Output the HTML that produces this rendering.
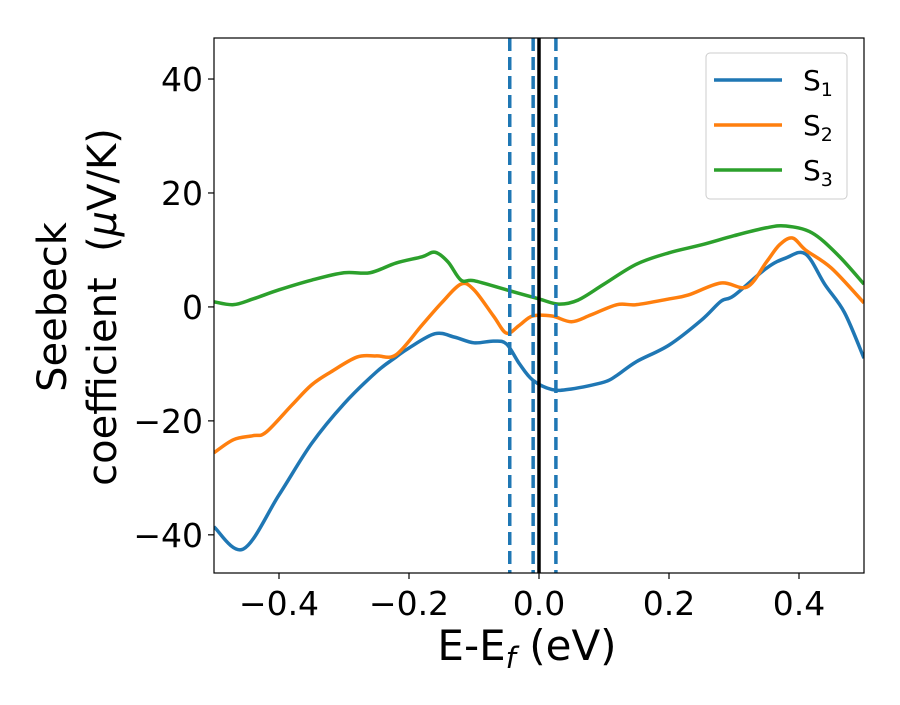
<!DOCTYPE html>
<html><head><meta charset="utf-8"><style>
body{margin:0;background:#fff;}
text{font-family:"DejaVu Sans","Liberation Sans",sans-serif;fill:#000;}
</style></head><body>
<svg id="chart" width="900" height="700" xmlns="http://www.w3.org/2000/svg">
</svg>
<script>
const xTicks=[-0.4,-0.2,0.0,0.2,0.4];
const xTickLabels=["\u22120.4","\u22120.2","0.0","0.2","0.4"];
const yTicks=[-40,-20,0,20,40];
const yTickLabels=["\u221240","\u221220","0","20","40"];
const dashedLines=[-0.045,-0.009,0.026];
const s1x=[-0.5,-0.455,-0.4,-0.35,-0.3,-0.25,-0.22,-0.2,-0.16,-0.13,-0.1,-0.07,-0.05,-0.03,-0.01,0.02,0.05,0.1,0.12,0.15,0.2,0.25,0.28,0.3,0.35,0.38,0.41,0.44,0.47,0.5];
const s1y=[-38.6,-42.5,-33,-24,-17,-11.4,-8.8,-7.2,-4.7,-5.3,-6.3,-6,-6.5,-10,-12.8,-14.5,-14.4,-13.2,-12,-9.6,-6.7,-2.3,1,2,6.8,8.6,9.3,3.9,-1,-9];
const s2x=[-0.5,-0.47,-0.44,-0.42,-0.38,-0.35,-0.32,-0.28,-0.25,-0.22,-0.18,-0.15,-0.12,-0.1,-0.07,-0.05,-0.03,-0.01,0.02,0.05,0.08,0.12,0.15,0.2,0.23,0.28,0.32,0.35,0.37,0.39,0.41,0.45,0.5];
const s2y=[-25.6,-23.3,-22.6,-22,-17.2,-13.7,-11.4,-8.8,-8.6,-8.4,-3.2,0.7,4,3,-1.6,-4.6,-3.2,-1.6,-1.6,-2.6,-1.4,0.4,0.4,1.4,2.1,4.2,3.5,7.9,10.9,12.1,10,6.8,0.7];
const s3x=[-0.5,-0.47,-0.44,-0.4,-0.35,-0.3,-0.26,-0.22,-0.18,-0.16,-0.14,-0.12,-0.1,-0.05,0,0.03,0.06,0.1,0.15,0.2,0.25,0.3,0.35,0.38,0.42,0.46,0.5];
const s3y=[0.9,0.4,1.4,3,4.7,6,6,7.7,8.8,9.6,7.9,4.7,4.6,3,1.4,0.5,1.2,4,7.5,9.5,10.9,12.5,13.9,14.2,13,9.1,4];
const seriesNames=["1","2","3"];
const colors=["#1f77b4","#ff7f0e","#2ca02c"];

const L=214,R=864,T=38,B=573,xmin=-0.5,xmax=0.5,ymin=-46.7,ymax=47.2;
const X=v=>L+(v-xmin)/(xmax-xmin)*(R-L);
const Y=v=>B-(v-ymin)/(ymax-ymin)*(B-T);
const NS="http://www.w3.org/2000/svg";
const svg=document.getElementById('chart');
function mk(t,a,p){const e=document.createElementNS(NS,t);for(const k in a)e.setAttribute(k,a[k]);(p||svg).appendChild(e);return e;}
function smooth(xs,ys){const P=xs.map((x,i)=>[X(x),Y(ys[i])]);let d=`M${P[0][0]},${P[0][1]}`;
for(let i=0;i<P.length-1;i++){const p0=P[Math.max(0,i-1)],p1=P[i],p2=P[i+1],p3=P[Math.min(P.length-1,i+2)];
d+=` C${p1[0]+(p2[0]-p0[0])/6},${p1[1]+(p2[1]-p0[1])/6} ${p2[0]-(p3[0]-p1[0])/6},${p2[1]-(p3[1]-p1[1])/6} ${p2[0]},${p2[1]}`;}return d;}

const clip=mk('clipPath',{id:'c'});mk('rect',{x:L,y:T,width:R-L,height:B-T},clip);
const g=mk('g',{'clip-path':'url(#c)'});


const xs=[s1x,s2x,s3x],ys=[s1y,s2y,s3y];
for(let i=0;i<3;i++){const p=mk('path',{d:smooth(xs[i],ys[i]),fill:'none',stroke:colors[i],'stroke-width':3.5},g);

}
dashedLines.forEach(v=>{const l=mk('line',{x1:X(v),x2:X(v),y1:T,y2:B,stroke:'#1f77b4','stroke-width':3.5,'stroke-dasharray':'13,6'},g);

});
const z=mk('line',{x1:X(0),x2:X(0),y1:T,y2:B,stroke:'#000','stroke-width':3.5},g);


const fr=mk('rect',{x:L,y:T,width:R-L,height:B-T,fill:'none',stroke:'#000','stroke-width':1.2});


xTicks.forEach((v,i)=>{mk('line',{x1:X(v),x2:X(v),y1:B,y2:B+6,stroke:'#000','stroke-width':1.2});
const t=mk('text',{x:X(v),y:B+42,'text-anchor':'middle','font-size':33});t.textContent=xTickLabels[i];

});
yTicks.forEach((v,i)=>{mk('line',{x1:L-6,x2:L,y1:Y(v),y2:Y(v),stroke:'#000','stroke-width':1.2});
const t=mk('text',{x:L-11,y:Y(v)+12,'text-anchor':'end','font-size':33});t.textContent=yTickLabels[i];

});
</script>
<svg width="900" height="700" style="position:absolute;left:0;top:0" xmlns="http://www.w3.org/2000/svg">
<text x="527" y="660" text-anchor="middle" font-size="42">E-E<tspan font-style="italic" font-size="29" dy="8">f</tspan><tspan dy="-8"> (eV)</tspan></text>
<g transform="translate(66,307) rotate(-90)">
<text x="0" y="0" text-anchor="middle" font-size="40">Seebeck</text>
<text x="0" y="50" text-anchor="middle" font-size="40" style="white-space:pre">coefficient  (<tspan font-style="italic">μ</tspan>V/K)</text>
</g>
<g>
<rect x="706" y="53" width="141" height="146" rx="4" fill="#fff" stroke="#ccc" stroke-width="1"/>
<g><line x1="714" x2="782" y1="80" y2="80" stroke="#1f77b4" stroke-width="3.5"/><text x="803" y="90" font-size="28">S<tspan font-size="19" dy="6">1</tspan></text></g>
<g><line x1="714" x2="782" y1="125" y2="125" stroke="#ff7f0e" stroke-width="3.5"/><text x="803" y="135" font-size="28">S<tspan font-size="19" dy="6">2</tspan></text></g>
<g><line x1="714" x2="782" y1="170" y2="170" stroke="#2ca02c" stroke-width="3.5"/><text x="803" y="180" font-size="28">S<tspan font-size="19" dy="6">3</tspan></text></g>
</g>
</svg>
</body></html>
